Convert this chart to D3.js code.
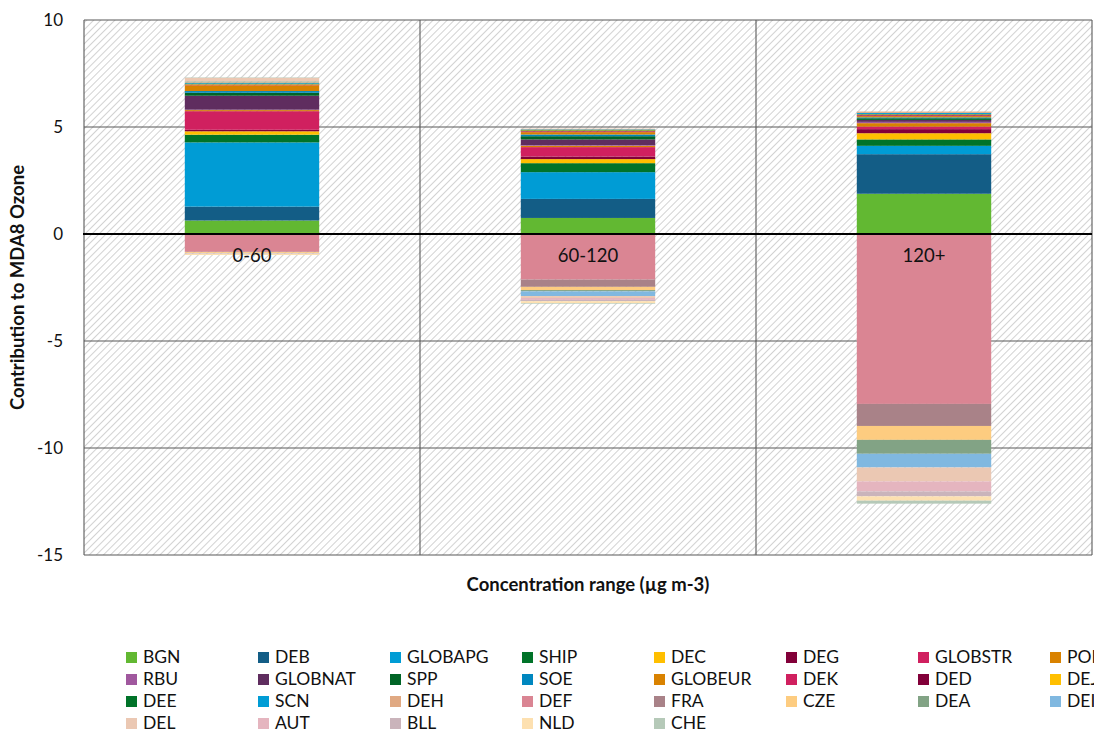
<!DOCTYPE html>
<html>
<head>
<meta charset="utf-8">
<script src="https://cdn.jsdelivr.net/npm/d3@7"></script>
<style>
  html, body { margin: 0; padding: 0; background: #ffffff; }
  svg { display: block; }
  text { font-family: Lato, "Open Sans", sans-serif; fill: #111; }
</style>
</head>
<body>
<svg id="chart" width="1094" height="732"></svg>
<script>
// ---------- data ----------
const categories = ["0-60", "60-120", "120+"];

const seriesNames = ["BGN","DEB","GLOBAPG","SHIP","DEC","DEG","GLOBSTR","POL",
  "RBU","GLOBNAT","SPP","SOE","GLOBEUR","DEK","DED","DEJ",
  "DEE","SCN","DEH","DEF","FRA","CZE","DEA","DEI",
  "DEL","AUT","BLL","NLD","CHE"];

const seriesColors = ["#62b832","#135d86","#009cd5","#007329","#ffbf00","#820039","#d0205f","#d98200",
  "#a0589e","#5f2d5f","#006426","#0087bf","#d98200","#d0205f","#820039","#ffbf00",
  "#007329","#009cd5","#e0a982","#da8593","#a98288","#fdcc80","#82a385","#80b8e0",
  "#ebc8b3","#e5b5bf","#cab4bb","#fde0b0","#b5c9b8"];

// contributions per category, in the order of seriesNames
const values0to60 = [0.63,0.65,3.00,0.36,0.16,0.07,0.87,0.05,
  0.02,0.65,0.14,0.08,0.27,0.02,0.01,0.02,
  0.03,0.03,0.03,-0.83,-0.02,-0.05,0.04,-0.01,
  0.17,-0.01,-0.01,-0.05,0.02];
const values60to120 = [0.75,0.89,1.25,0.42,0.19,0.12,0.44,0.06,
  0.03,0.27,0.15,0.08,0.11,0.03,0.02,0.03,
  0.03,0.02,0.03,-2.13,-0.34,-0.15,-0.06,-0.22,
  -0.09,-0.09,-0.06,-0.09,-0.03];
const values120plus = [1.88,1.85,0.39,0.30,0.29,0.19,0.12,0.16,
  0.06,0.09,0.08,0.04,0.06,0.03,0.03,0.02,
  0.02,0.05,0.06,-7.94,-1.03,-0.65,-0.65,-0.64,
  -0.65,-0.47,-0.23,-0.20,-0.14];

const yTicks = [-15, -10, -5, 0, 5, 10];
const yTitle = "Contribution to MDA8 Ozone";
const xTitle = "Concentration range (\u00b5g m-3)";

// ---------- layout ----------
const svg = d3.select("#chart");
const plot = { left: 84, right: 1092, top: 20, bottom: 555 };

const table = [values0to60, values60to120, values120plus].map((vals, i) => {
  const row = { category: categories[i] };
  seriesNames.forEach((s, j) => row[s] = vals[j]);
  return row;
});

const x = d3.scaleBand().domain(categories).range([plot.left, plot.right])
  .paddingInner(0.6).paddingOuter(0.3);
const y = d3.scaleLinear().domain([-15, 10]).range([plot.bottom, plot.top]);
const color = d3.scaleOrdinal().domain(seriesNames).range(seriesColors);

// hatch pattern
const defs = svg.append("defs");
const pat = defs.append("pattern").attr("id", "hatch")
  .attr("patternUnits", "userSpaceOnUse").attr("width", 5).attr("height", 5)
  .attr("patternTransform", "rotate(45)");
pat.append("rect").attr("width", 5).attr("height", 5).attr("fill", "#ffffff");
pat.append("line").attr("x1", 0).attr("y1", 0).attr("x2", 0).attr("y2", 5)
  .attr("stroke", "#d2d2d2").attr("stroke-width", 2);

svg.append("rect").attr("x", plot.left).attr("y", plot.top)
  .attr("width", plot.right - plot.left).attr("height", plot.bottom - plot.top)
  .attr("fill", "url(#hatch)");

// horizontal gridlines
svg.append("g").selectAll("line").data(yTicks.filter(d => d !== 0))
  .join("line")
  .attr("x1", plot.left).attr("x2", plot.right)
  .attr("y1", d => y(d)).attr("y2", d => y(d))
  .attr("stroke", "#595959").attr("stroke-width", 1.1);

// vertical gridlines at category boundaries
const step = x.step();
const boundaries = d3.range(categories.length + 1).map(i => plot.left + i * step);
svg.append("g").selectAll("line").data(boundaries)
  .join("line")
  .attr("x1", d => d).attr("x2", d => d)
  .attr("y1", plot.top).attr("y2", plot.bottom)
  .attr("stroke", "#595959").attr("stroke-width", 1.1);

// stacked bars
const stack = d3.stack().keys(seriesNames).offset(d3.stackOffsetDiverging);
const layers = stack(table);
svg.append("g").selectAll("g").data(layers).join("g")
  .attr("fill", d => color(d.key))
  .selectAll("rect").data(d => d).join("rect")
  .attr("x", d => x(d.data.category))
  .attr("width", x.bandwidth())
  .attr("y", d => y(Math.max(d[0], d[1])))
  .attr("height", d => Math.abs(y(d[0]) - y(d[1])));

// zero axis line
svg.append("line").attr("x1", plot.left - 1).attr("x2", plot.right)
  .attr("y1", y(0)).attr("y2", y(0))
  .attr("stroke", "#000").attr("stroke-width", 2);

// y axis
const yAxis = d3.axisLeft(y).tickValues(yTicks).tickSize(0).tickPadding(21)
  .tickFormat(d => String(d));
const gy = svg.append("g").attr("transform", `translate(${plot.left},0)`).call(yAxis);
gy.select(".domain").remove();
gy.selectAll("text").style("font-size", "17px").style("font-family", "Lato, 'Open Sans', sans-serif").attr("fill", "#111");

// category labels inside the chart
svg.append("g").selectAll("text").data(categories).join("text")
  .attr("x", d => x(d) + x.bandwidth() / 2)
  .attr("y", y(0) + 28)
  .attr("text-anchor", "middle")
  .style("font-size", "18.5px")
  .text(d => d);

// axis titles
svg.append("text")
  .attr("transform", `translate(24,${(plot.top + plot.bottom) / 2}) rotate(-90)`)
  .attr("text-anchor", "middle")
  .style("font-size", "18.5px").style("font-weight", "bold")
  .text(yTitle);
svg.append("text")
  .attr("x", (plot.left + plot.right) / 2).attr("y", 591)
  .attr("text-anchor", "middle")
  .style("font-size", "18.5px").style("font-weight", "bold")
  .text(xTitle);

// legend
const legend = svg.append("g");
const items = legend.selectAll("g").data(seriesNames).join("g")
  .attr("transform", (d, i) => `translate(${126 + (i % 8) * 132},${652 + Math.floor(i / 8) * 22})`);
items.append("rect").attr("width", 11).attr("height", 11).attr("fill", d => color(d));
items.append("text").attr("x", 17).attr("y", 11).style("font-size", "17.5px").text(d => d);
</script>
</body>
</html>
